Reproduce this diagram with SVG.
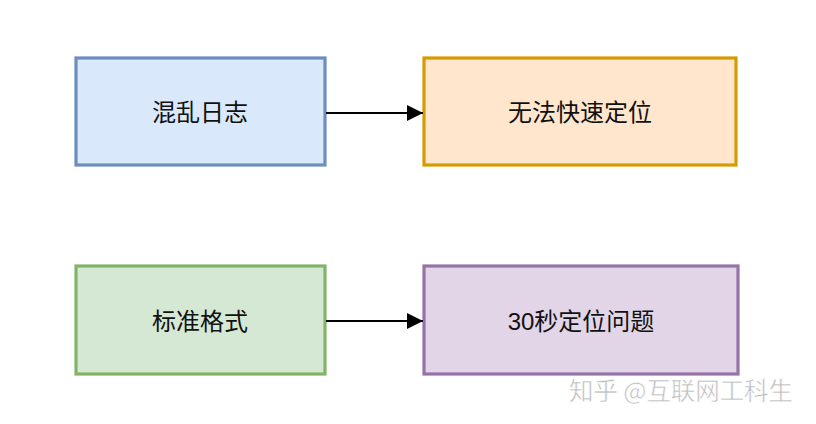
<svg xmlns="http://www.w3.org/2000/svg" width="816" height="424" viewBox="0 0 816 424">
<defs>
<style>
.box{stroke-width:3.2}
.lbl{font-family:"Liberation Sans","Noto Sans CJK SC",sans-serif;font-size:24px;fill:#111111;text-anchor:middle;dominant-baseline:central}
.conn{stroke:#000;stroke-width:2;fill:none}
.wm{font-family:"Noto Sans CJK SC",sans-serif;font-size:24.5px;fill:#bdbdbd;stroke:#ffffff;stroke-width:0.5}
</style>
<marker id="arr" markerWidth="16" markerHeight="16" refX="16" refY="8" orient="auto" markerUnits="userSpaceOnUse">
<path d="M0,0 L16,8 L0,16 Z" fill="#000"/>
</marker>
</defs>
<rect width="816" height="424" fill="#ffffff"/>
<g id="n1"><rect class="box" x="76" y="58" width="249" height="107" fill="#dae8fc" stroke="#6c8ebf"/><text class="lbl" x="200" y="112">混乱日志</text></g>
<g id="n2"><rect class="box" x="424" y="58" width="312" height="107" fill="#ffe6cc" stroke="#d79b00"/><text class="lbl" x="580" y="112">无法快速定位</text></g>
<g id="n3"><rect class="box" x="76" y="266" width="249" height="108" fill="#d5e8d4" stroke="#82b366"/><text class="lbl" x="200" y="321">标准格式</text></g>
<g id="n4"><rect class="box" x="424" y="266" width="314" height="108" fill="#e1d5e7" stroke="#9673a6"/><text class="lbl" x="581" y="321">30秒定位问题</text></g>
<g id="connectors">
<line class="conn" x1="326" y1="113" x2="423" y2="113" marker-end="url(#arr)"/>
<line class="conn" x1="326" y1="321" x2="423" y2="321" marker-end="url(#arr)"/>
</g>
<text class="wm" x="569" y="400" textLength="224" lengthAdjust="spacing">知乎 @互联网工科生</text>
</svg>
